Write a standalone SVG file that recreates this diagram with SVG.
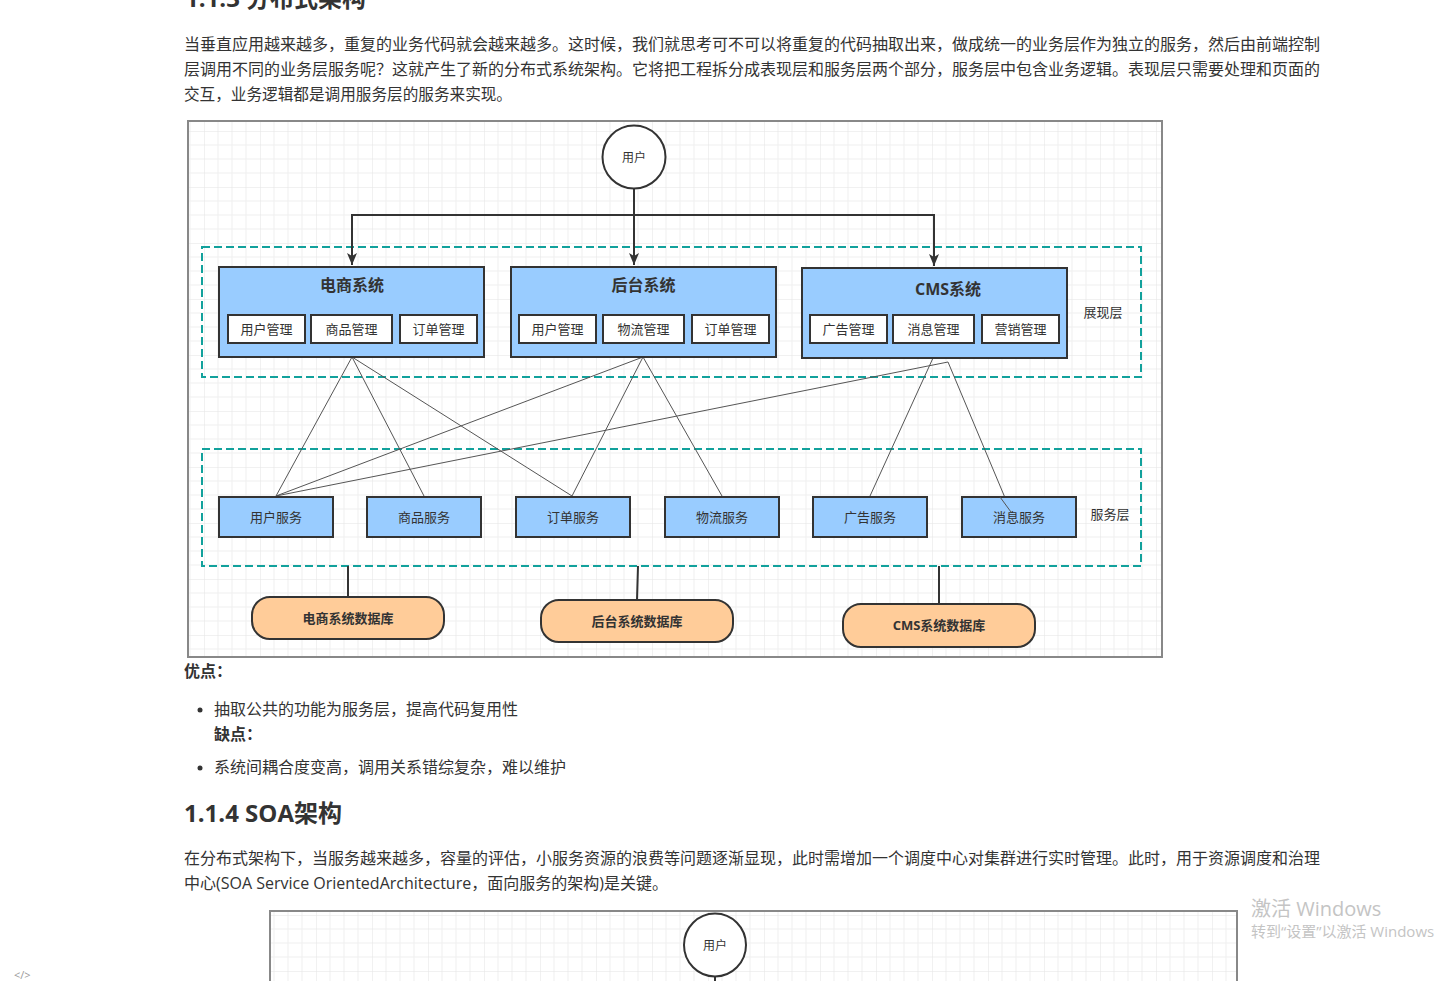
<svg xmlns="http://www.w3.org/2000/svg" width="1440" height="981" viewBox="0 0 1440 981">
<defs>
<pattern id="grid" x="204" y="131" width="56" height="56" patternUnits="userSpaceOnUse">
<path d="M14 0V56M28 0V56M42 0V56M0 14H56M0 28H56M0 42H56" stroke="#efefef" stroke-width="1" fill="none"/>
<path d="M0 0V56M0 0H56" stroke="#e3e3e3" stroke-width="1" fill="none"/>
</pattern>
<marker id="arr" markerWidth="12" markerHeight="10" refX="12" refY="5" orient="auto" markerUnits="userSpaceOnUse" viewBox="0 0 12 10">
<path d="M0 0L12 5L0 10L3 5Z" fill="#333"/>
</marker>
<style>
text{font-family:"Open Sans","Noto Sans CJK SC",sans-serif;fill:#333}
.body{font-size:16px}
.h{font-size:24px;font-weight:bold}
.b{font-weight:bold}
.sys{fill:#99ccff;stroke:#333;stroke-width:2}
.sub{fill:#fff;stroke:#333;stroke-width:2}
.svc{fill:#99ccff;stroke:#333;stroke-width:2}
.db{fill:#ffcc99;stroke:#333;stroke-width:2}
.layer{fill:none;stroke:#12a19c;stroke-width:2;stroke-dasharray:8 4}
.t13{font-size:13px;text-anchor:middle;dominant-baseline:central}
.title{font-size:16px;font-weight:bold;text-anchor:middle;dominant-baseline:central}
.thin{stroke:#555;stroke-width:1;fill:none}
.thick{stroke:#333;stroke-width:2;fill:none}
</style>
</defs>
<rect width="1440" height="981" fill="#fff"/>

<!-- page text -->
<text class="h" x="185" y="7">1.1.3 分布式架构</text>
<text class="body" x="184" y="50" textLength="1136" lengthAdjust="spacingAndGlyphs">当垂直应用越来越多，重复的业务代码就会越来越多。这时候，我们就思考可不可以将重复的代码抽取出来，做成统一的业务层作为独立的服务，然后由前端控制</text>
<text class="body" x="184" y="75" textLength="1136" lengthAdjust="spacingAndGlyphs">层调用不同的业务层服务呢？这就产生了新的分布式系统架构。它将把工程拆分成表现层和服务层两个部分，服务层中包含业务逻辑。表现层只需要处理和页面的</text>
<text class="body" x="184" y="100" textLength="328" lengthAdjust="spacingAndGlyphs">交互，业务逻辑都是调用服务层的服务来实现。</text>

<!-- diagram frame -->
<rect x="188" y="121" width="974" height="536" fill="url(#grid)" stroke="#888" stroke-width="2"/>

<!-- layers -->
<g id="layer-present">
<rect class="layer" x="202" y="247" width="939" height="130"/>
<text class="t13" x="1103" y="312">展现层</text>
</g>
<g id="layer-service">
<rect class="layer" x="202" y="449" width="939" height="117"/>
<text class="t13" x="1110" y="514">服务层</text>
</g>

<!-- connectors -->
<g id="connectors">
<path class="thick" d="M634 189V215"/>
<path class="thick" d="M634 215H352V265" marker-end="url(#arr)"/>
<path class="thick" d="M634 215V265" marker-end="url(#arr)"/>
<path class="thick" d="M634 215H934V266" marker-end="url(#arr)"/>
<path class="thin" d="M352 357L276 496M352 357L424 496M352 357L572 496"/>
<path class="thin" d="M643 357L276 496M643 357L572 496M643 357L722 496"/>
<path class="thin" d="M948 362L276 496M948 362L1011 512M933 358L870 496"/>
<path class="thick" d="M348 566V597M638 566L637 600M939 566V604"/>
</g>

<!-- user -->
<g id="user">
<circle cx="634" cy="157" r="31.5" fill="#fff" stroke="#333" stroke-width="2"/>
<text x="634" y="157" font-size="12" text-anchor="middle" dominant-baseline="central">用户</text>
</g>

<!-- systems -->
<g id="sys-ecommerce">
<rect class="sys" x="219" y="267" width="265" height="90"/>
<text class="title" x="352" y="285">电商系统</text>
<rect class="sub" x="228" y="315" width="77" height="28"/><text class="t13" x="266.5" y="329">用户管理</text>
<rect class="sub" x="311" y="315" width="81" height="28"/><text class="t13" x="351.5" y="329">商品管理</text>
<rect class="sub" x="400" y="315" width="77" height="28"/><text class="t13" x="438.5" y="329">订单管理</text>
</g>
<g id="sys-admin">
<rect class="sys" x="511" y="267" width="265" height="90"/>
<text class="title" x="643.5" y="285">后台系统</text>
<rect class="sub" x="519" y="315" width="77" height="28"/><text class="t13" x="557.5" y="329">用户管理</text>
<rect class="sub" x="603" y="315" width="81" height="28"/><text class="t13" x="643.5" y="329">物流管理</text>
<rect class="sub" x="692" y="315" width="77" height="28"/><text class="t13" x="730.5" y="329">订单管理</text>
</g>
<g id="sys-cms">
<rect class="sys" x="802" y="268" width="265" height="90"/>
<text class="title" x="948" y="289">CMS系统</text>
<rect class="sub" x="810" y="315" width="77" height="28"/><text class="t13" x="848.5" y="329">广告管理</text>
<rect class="sub" x="893" y="315" width="81" height="28"/><text class="t13" x="933.5" y="329">消息管理</text>
<rect class="sub" x="982" y="315" width="77" height="28"/><text class="t13" x="1020.5" y="329">营销管理</text>
</g>

<!-- services -->
<g id="svc-user"><rect class="svc" x="219" y="497" width="114" height="40"/><text class="t13" x="276" y="517">用户服务</text></g>
<g id="svc-goods"><rect class="svc" x="367" y="497" width="114" height="40"/><text class="t13" x="424" y="517">商品服务</text></g>
<g id="svc-order"><rect class="svc" x="516" y="497" width="114" height="40"/><text class="t13" x="573" y="517">订单服务</text></g>
<g id="svc-logistics"><rect class="svc" x="665" y="497" width="114" height="40"/><text class="t13" x="722" y="517">物流服务</text></g>
<g id="svc-ad"><rect class="svc" x="813" y="497" width="114" height="40"/><text class="t13" x="870" y="517">广告服务</text></g>
<g id="svc-msg"><rect class="svc" x="962" y="497" width="114" height="40"/><text class="t13" x="1019" y="517">消息服务</text></g>
<path class="thin" d="M1000 497L1011 512"/>

<!-- databases -->
<g id="db-ecommerce"><rect class="db" x="252" y="597" width="192" height="42" rx="18"/><text class="t13 b" x="348" y="618">电商系统数据库</text></g>
<g id="db-admin"><rect class="db" x="541" y="600" width="192" height="42" rx="18"/><text class="t13 b" x="637" y="621">后台系统数据库</text></g>
<g id="db-cms"><rect class="db" x="843" y="604" width="192" height="43" rx="18"/><text class="t13 b" x="939" y="625">CMS系统数据库</text></g>

<!-- text below -->
<text class="body b" x="184" y="677">优点：</text>
<circle cx="200" cy="710" r="2.5" fill="#333"/>
<text class="body" x="214" y="715">抽取公共的功能为服务层，提高代码复用性</text>
<text class="body b" x="214" y="740">缺点：</text>
<circle cx="200" cy="768" r="2.5" fill="#333"/>
<text class="body" x="214" y="773">系统间耦合度变高，调用关系错综复杂，难以维护</text>
<text class="h" x="184" y="822">1.1.4 SOA架构</text>
<text class="body" x="184" y="864" textLength="1136" lengthAdjust="spacingAndGlyphs">在分布式架构下，当服务越来越多，容量的评估，小服务资源的浪费等问题逐渐显现，此时需增加一个调度中心对集群进行实时管理。此时，用于资源调度和治理</text>
<text class="body" x="184" y="889">中心(SOA Service OrientedArchitecture，面向服务的架构)是关键。</text>

<!-- second diagram -->
<rect x="270" y="911" width="967" height="80" fill="url(#grid)" stroke="#888" stroke-width="2"/>
<g id="user2">
<path class="thick" d="M715 977V985"/>
<ellipse cx="715" cy="945" rx="31" ry="31.5" fill="#fff" stroke="#333" stroke-width="2"/>
<text x="715" y="945" font-size="12" text-anchor="middle" dominant-baseline="central">用户</text>
</g>

<text x="14" y="979" font-size="11" style="fill:#999">&lt;/&gt;</text>
<text x="1251" y="916" font-size="20" style="fill:#c4c4c4">激活 Windows</text>
<text x="1251" y="937" font-size="15" style="fill:#c4c4c4">转到“设置”以激活 Windows</text>
</svg>
